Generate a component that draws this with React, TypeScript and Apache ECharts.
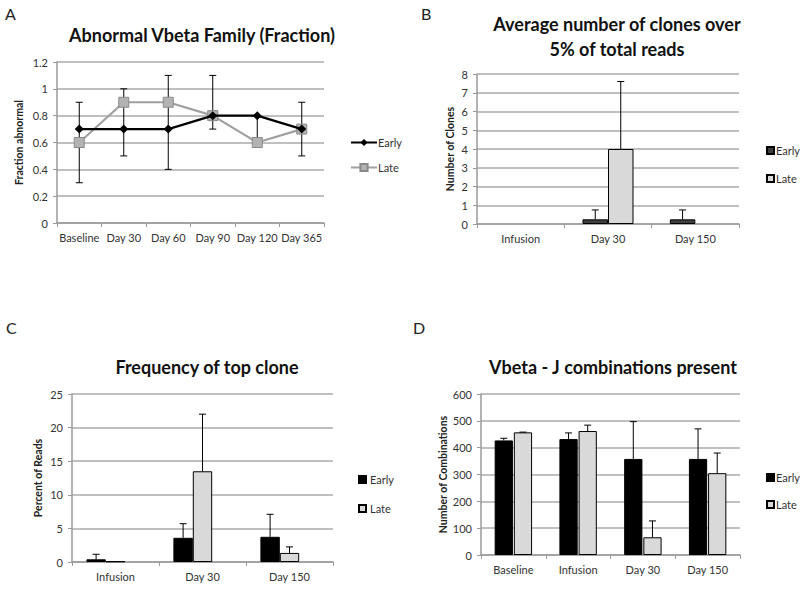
import React, { useEffect, useRef } from "react";
import * as echarts from "echarts";

// Panel A
const catsA = ["Baseline", "Day 30", "Day 60", "Day 90", "Day 120", "Day 365"];
const earlyA = [0.7, 0.7, 0.7, 0.8, 0.8, 0.7];
const lateA = [0.6, 0.9, 0.9, 0.8, 0.6, 0.7];
const errLowA = [0.3, 0.5, 0.4, 0.7, 0.6, 0.5];
const errHighA = [0.9, 1.0, 1.1, 1.1, 0.8, 0.9];

// Panel B
const catsB = ["Infusion", "Day 30", "Day 150"];
const earlyB = [null, 0.25, 0.25];
const earlyTopB = [null, 0.75, 0.75];
const lateB = [null, 4.0, null];
const lateTopB = [null, 7.6, null];

// Panel C
const catsC = ["Infusion", "Day 30", "Day 150"];
const earlyC = [0.4, 3.6, 3.75];
const earlyTopC = [1.15, 5.7, 7.1];
const lateC = [0.1, 13.5, 1.35];
const lateTopC = [null, 22.0, 2.25];

// Panel D
const catsD = ["Baseline", "Infusion", "Day 30", "Day 150"];
const earlyD = [427, 432, 358, 358];
const earlyTopD = [435, 455, 497, 470];
const lateD = [457, 462, 66, 305];
const lateTopD = [458, 484, 127, 380];

const FONT = "Lato, 'Open Sans', sans-serif";
const AXIS_COLOR = "#9a9a9a";
const GRID_COLOR = "#ababab";
const LABEL_COLOR = "#333";

function xAxisCfg(gridIndex: number, data: string[]) {
  return {
    type: "category",
    gridIndex,
    data,
    axisLine: { show: true, lineStyle: { color: AXIS_COLOR, width: 1.5 } },
    axisTick: { show: true, length: 4, lineStyle: { color: AXIS_COLOR } },
    axisLabel: { color: LABEL_COLOR, fontSize: 11, fontFamily: FONT, margin: 9, interval: 0 },
  };
}

function yAxisCfg(gridIndex: number, min: number, max: number, interval: number, name: string, nameGap: number) {
  return {
    type: "value",
    gridIndex,
    min,
    max,
    interval,
    name,
    nameLocation: "middle",
    nameGap,
    nameTextStyle: { fontSize: 10.5, fontWeight: "bold", color: "#222", fontFamily: FONT },
    axisLine: { show: true, lineStyle: { color: AXIS_COLOR, width: 1.5 } },
    axisTick: { show: true, length: 4, lineStyle: { color: AXIS_COLOR } },
    axisLabel: { color: LABEL_COLOR, fontSize: 11, fontFamily: FONT, margin: 9 },
    splitLine: { show: true, lineStyle: { color: GRID_COLOR, width: 1.5 } },
  };
}

// Error bar series for grouped bars (plus direction only)
function barErr(
  axisIndex: number,
  values: (number | null)[],
  tops: (number | null)[],
  slot: number,
  nSlots: number,
  barRatio: number,
  gapRatio: number
) {
  const data: number[][] = [];
  values.forEach((v, i) => {
    const t = tops[i];
    if (v != null && t != null) data.push([i, v, t]);
  });
  return {
    type: "custom",
    xAxisIndex: axisIndex,
    yAxisIndex: axisIndex,
    z: 10,
    silent: true,
    data,
    encode: { x: 0, y: [1, 2] },
    renderItem: (params: any, api: any) => {
      const i = api.value(0);
      const base = api.coord([i, api.value(1)]);
      const top = api.coord([i, api.value(2)]);
      const band = api.size([1, 0])[0];
      const bw = band * barRatio;
      const gap = bw * gapRatio;
      const total = nSlots * bw + (nSlots - 1) * gap;
      const x = base[0] - total / 2 + slot * (bw + gap) + bw / 2;
      const style = { stroke: "#000", lineWidth: 1 };
      return {
        type: "group",
        children: [
          { type: "line", shape: { x1: x, y1: base[1], x2: x, y2: top[1] }, style },
          { type: "line", shape: { x1: x - 3.5, y1: top[1], x2: x + 3.5, y2: top[1] }, style },
        ],
      };
    },
  };
}

function App() {
  const ref = useRef<HTMLDivElement>(null);
  useEffect(() => {
    if (!ref.current) return;
    const chart = echarts.init(ref.current, undefined, { renderer: "svg" });

    const ratioB = 0.292;
    const ratioC = 0.223;
    const ratioD = 0.282;
    const gapD = 0.05;

    const lateStyle = { color: "#d9d9d9", borderColor: "#000", borderWidth: 1 };
    const fmt = (n: string) => n.replace(/ [A-D]$/, "");

    const option: any = {
      animation: false,
      backgroundColor: "#fff",
      textStyle: { fontFamily: FONT },
      grid: [
        { left: 57, top: 62, width: 267, height: 161 },
        { left: 477, top: 74, width: 262, height: 150 },
        { left: 72, top: 394, width: 261, height: 168 },
        { left: 481, top: 394, width: 259, height: 161 },
      ],
      xAxis: [xAxisCfg(0, catsA), xAxisCfg(1, catsB), xAxisCfg(2, catsC), xAxisCfg(3, catsD)],
      yAxis: [
        yAxisCfg(0, 0, 1.2, 0.2, "Fraction abnormal", 33),
        yAxisCfg(1, 0, 8, 1, "Number of Clones", 22),
        yAxisCfg(2, 0, 25, 5, "Percent of Reads", 29),
        yAxisCfg(3, 0, 600, 100, "Number of Combinations", 33),
      ],
      legend: [
        {
          orient: "vertical",
          left: 345,
          top: 132,
          itemWidth: 26,
          itemHeight: 9,
          itemGap: 14,
          textStyle: { fontSize: 11, color: LABEL_COLOR, fontFamily: FONT, padding: [0, 0, 0, -4] },
          data: ["Early A", "Late A"],
          formatter: fmt,
        },
        {
          orient: "vertical",
          left: 761,
          top: 140,
          icon: "rect",
          itemWidth: 7,
          itemHeight: 7,
          itemGap: 17,
          textStyle: { fontSize: 11, color: LABEL_COLOR, fontFamily: FONT, padding: [0, 0, 0, -3] },
          data: ["Early B", "Late B"],
          formatter: fmt,
        },
        {
          orient: "vertical",
          left: 353,
          top: 469,
          icon: "rect",
          itemWidth: 7,
          itemHeight: 7,
          itemGap: 18,
          textStyle: { fontSize: 11, color: LABEL_COLOR, fontFamily: FONT, padding: [0, 0, 0, -1] },
          data: ["Early C", "Late C"],
          formatter: fmt,
        },
        {
          orient: "vertical",
          left: 761,
          top: 467,
          icon: "rect",
          itemWidth: 7,
          itemHeight: 7,
          itemGap: 16,
          textStyle: { fontSize: 11, color: LABEL_COLOR, fontFamily: FONT, padding: [0, 0, 0, -3] },
          data: ["Early D", "Late D"],
          formatter: fmt,
        },
      ],
      graphic: [
        { type: "text", x: 5, y: 13, style: { text: "A", font: `16px ${FONT}`, fill: "#222", textVerticalAlign: "middle" } },
        { type: "text", x: 421, y: 13, style: { text: "B", font: `16px ${FONT}`, fill: "#222", textVerticalAlign: "middle" } },
        { type: "text", x: 6, y: 327, style: { text: "C", font: `16px ${FONT}`, fill: "#222", textVerticalAlign: "middle" } },
        { type: "text", x: 413, y: 327, style: { text: "D", font: `16px ${FONT}`, fill: "#222", textVerticalAlign: "middle" } },
        {
          type: "text", x: 202, y: 35,
          style: { text: "Abnormal Vbeta Family (Fraction)", font: `bold 18px ${FONT}`, fill: "#111", textAlign: "center", textVerticalAlign: "middle" },
        },
        {
          type: "text", x: 617, y: 24,
          style: { text: "Average number of clones over", font: `bold 18px ${FONT}`, fill: "#111", textAlign: "center", textVerticalAlign: "middle" },
        },
        {
          type: "text", x: 617, y: 49,
          style: { text: "5% of total reads", font: `bold 18px ${FONT}`, fill: "#111", textAlign: "center", textVerticalAlign: "middle" },
        },
        {
          type: "text", x: 207, y: 367,
          style: { text: "Frequency of top clone", font: `bold 18px ${FONT}`, fill: "#111", textAlign: "center", textVerticalAlign: "middle" },
        },
        {
          type: "text", x: 613, y: 367,
          style: { text: "Vbeta - J combinations present", font: `bold 18px ${FONT}`, fill: "#111", textAlign: "center", textVerticalAlign: "middle" },
        },
      ],
      series: [
        // Panel A
        {
          type: "custom",
          xAxisIndex: 0,
          yAxisIndex: 0,
          z: 1,
          silent: true,
          data: catsA.map((_, i) => [i, errLowA[i], errHighA[i]]),
          encode: { x: 0, y: [1, 2] },
          renderItem: (params: any, api: any) => {
            const i = api.value(0);
            const lo = api.coord([i, api.value(1)]);
            const hi = api.coord([i, api.value(2)]);
            const style = { stroke: "#000", lineWidth: 1 };
            return {
              type: "group",
              children: [
                { type: "line", shape: { x1: lo[0], y1: lo[1], x2: hi[0], y2: hi[1] }, style },
                { type: "line", shape: { x1: lo[0] - 3.5, y1: lo[1], x2: lo[0] + 3.5, y2: lo[1] }, style },
                { type: "line", shape: { x1: hi[0] - 3.5, y1: hi[1], x2: hi[0] + 3.5, y2: hi[1] }, style },
              ],
            };
          },
        },
        {
          name: "Early A",
          type: "line",
          xAxisIndex: 0,
          yAxisIndex: 0,
          z: 3,
          data: earlyA,
          symbol: "diamond",
          symbolSize: 9,
          lineStyle: { color: "#000", width: 2.2 },
          itemStyle: { color: "#000" },
        },
        {
          name: "Late A",
          type: "line",
          xAxisIndex: 0,
          yAxisIndex: 0,
          z: 2,
          data: lateA,
          symbol: "rect",
          symbolSize: 10,
          lineStyle: { color: "#a0a0a0", width: 2.2 },
          itemStyle: { color: "#b3b3b3", borderColor: "#8a8a8a", borderWidth: 1 },
        },
        // Panel B
        {
          name: "Early B",
          type: "bar",
          xAxisIndex: 1,
          yAxisIndex: 1,
          data: earlyB,
          barWidth: `${ratioB * 100}%`,
          barGap: "0%",
          itemStyle: { color: "#3f3f3f", borderColor: "#000", borderWidth: 1 },
        },
        {
          name: "Late B",
          type: "bar",
          xAxisIndex: 1,
          yAxisIndex: 1,
          data: lateB,
          barWidth: `${ratioB * 100}%`,
          barGap: "0%",
          itemStyle: lateStyle,
        },
        barErr(1, earlyB, earlyTopB, 0, 2, ratioB, 0),
        barErr(1, lateB, lateTopB, 1, 2, ratioB, 0),
        // Panel C
        {
          name: "Early C",
          type: "bar",
          xAxisIndex: 2,
          yAxisIndex: 2,
          data: earlyC,
          barWidth: `${ratioC * 100}%`,
          barGap: "0%",
          itemStyle: { color: "#000", borderColor: "#000", borderWidth: 1 },
        },
        {
          name: "Late C",
          type: "bar",
          xAxisIndex: 2,
          yAxisIndex: 2,
          data: lateC,
          barWidth: `${ratioC * 100}%`,
          barGap: "0%",
          itemStyle: lateStyle,
        },
        {
          name: "blank C",
          type: "bar",
          xAxisIndex: 2,
          yAxisIndex: 2,
          data: catsC.map(() => null),
          barWidth: `${ratioC * 100}%`,
          barGap: "0%",
        },
        barErr(2, earlyC, earlyTopC, 0, 3, ratioC, 0),
        barErr(2, lateC, lateTopC, 1, 3, ratioC, 0),
        // Panel D
        {
          name: "Early D",
          type: "bar",
          xAxisIndex: 3,
          yAxisIndex: 3,
          data: earlyD,
          barWidth: `${ratioD * 100}%`,
          barGap: `${gapD * 100}%`,
          itemStyle: { color: "#000", borderColor: "#000", borderWidth: 1 },
        },
        {
          name: "Late D",
          type: "bar",
          xAxisIndex: 3,
          yAxisIndex: 3,
          data: lateD,
          barWidth: `${ratioD * 100}%`,
          barGap: `${gapD * 100}%`,
          itemStyle: lateStyle,
        },
        barErr(3, earlyD, earlyTopD, 0, 2, ratioD, gapD),
        barErr(3, lateD, lateTopD, 1, 2, ratioD, gapD),
      ],
    };

    chart.setOption(option);
    return () => {
      chart.dispose();
    };
  }, []);

  return (
    <div
      ref={ref}
      style={{ position: "fixed", left: 0, top: 0, width: 800, height: 589, background: "#fff" }}
    />
  );
}

export default App;
